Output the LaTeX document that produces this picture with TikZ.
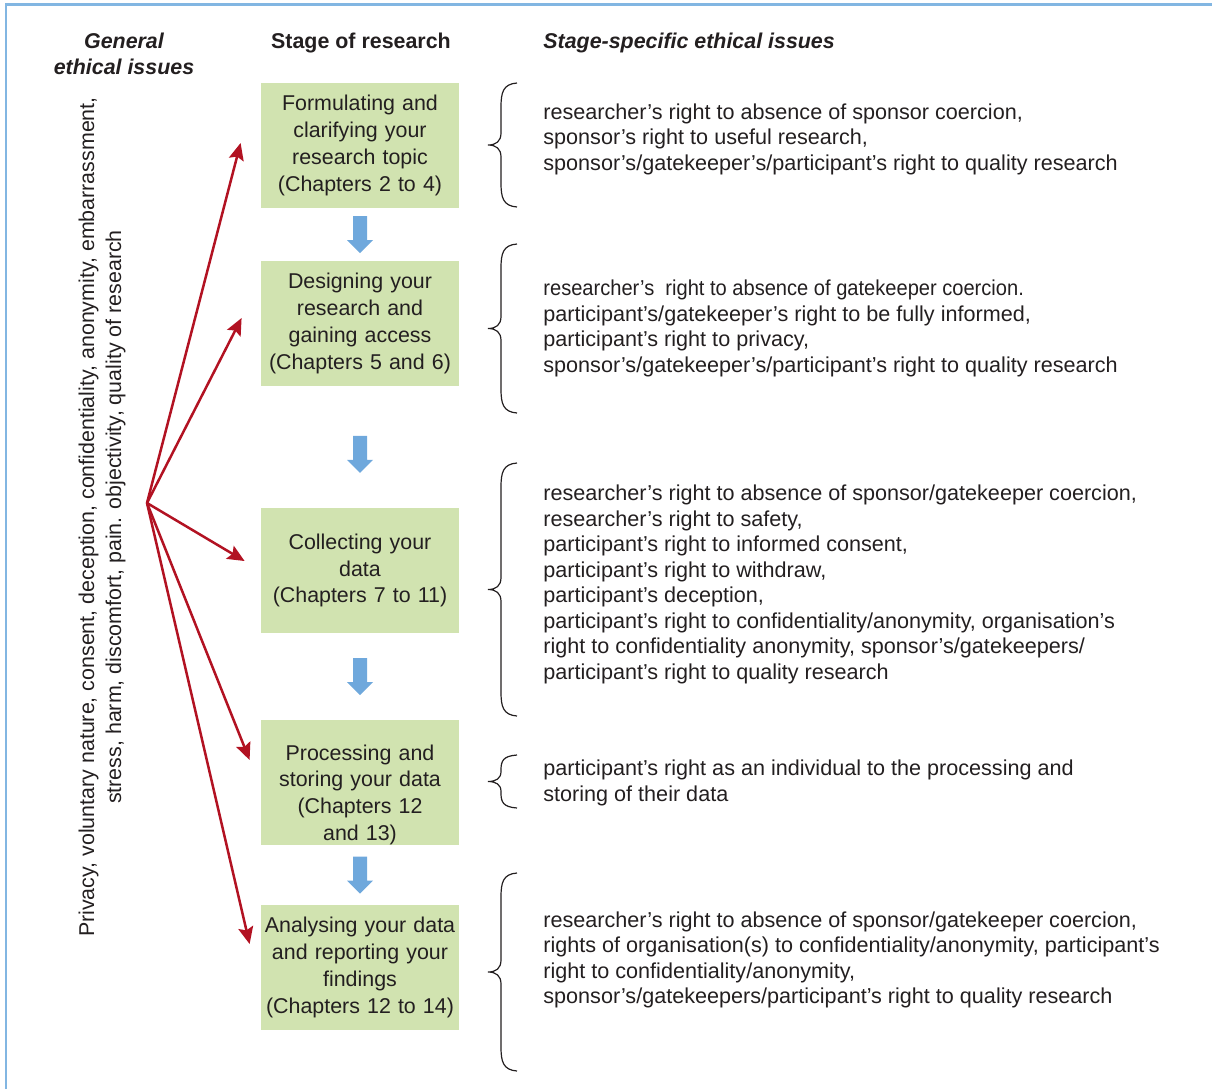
\documentclass[tikz,border=0pt]{standalone}
\usepackage{fontspec}
\setmainfont{Liberation Sans}
\usetikzlibrary{arrows.meta,calc}

\definecolor{stagegreen}{RGB}{209,227,176}
\definecolor{flowblue}{RGB}{111,168,220}
\definecolor{issuered}{RGB}{178,18,34}
\definecolor{frameblue}{RGB}{130,182,226}
\definecolor{inkgray}{RGB}{35,31,32}

\tikzset{
  stage/.style={fill=stagegreen, text=inkgray, text width=99pt, minimum height=62.5pt,
    inner xsep=0pt, align=center, font=\fontsize{10.7}{13.35}\selectfont},
  issues/.style={anchor=west, text=inkgray, align=left, inner sep=0pt,
    font=\fontsize{10.8}{12.75}\selectfont},
  head/.style={text=inkgray, align=center, inner sep=0pt, font=\fontsize{10.7}{13}\selectfont\bfseries},
  reach/.style={draw=issuered, line width=1.25pt, -{Stealth[length=8.5pt,width=7.5pt,inset=1.5pt]}},
  curly/.style={draw=inkgray, line width=0.6pt},
  pics/downflow/.style={code={
    \fill[flowblue] (-7,-18.5) -- (7,-18.5) -- (7,5.5) -- (13,5.5) -- (0,18.5)
      -- (-13,5.5) -- (-7,5.5) -- cycle;
  }}
}

\begin{document}
\begin{tikzpicture}[x=0.5pt, y=-0.5pt]
  \useasboundingbox (0,0) rectangle (1212,1089);
  \draw[frameblue, line width=1.25pt] (6,1089) -- (6,4.5) -- (1212,4.5);

  % column heads
  \node[head] (hgen) at (124,54) {\itshape General\\\itshape ethical issues};
  \node[head] (hstage) at (361,43) {Stage of research};
  \node[head, anchor=west] (hspec) at (543,43) {\itshape Stage-specific ethical issues};

  % general issues, turned
  \node[rotate=90, text=inkgray, align=center, inner sep=0pt,
    font=\fontsize{10.7}{13.5}\selectfont] (gen) at (102,517)
    {Privacy, voluntary nature, consent, deception, confidentiality, anonymity, embarrassment,\\
     stress, harm, discomfort, pain. objectivity, quality of research};
  \coordinate (src) at (147,503);

  % stages
  \node[stage] (f1) at (360,145.5) {Formulating and\\clarifying your\\research topic\\(Chapters 2 to 4)};
  \node[stage] (f2) at (360,323.5) {Designing your\\research and\\gaining access\\(Chapters 5 and 6)};
  \node[stage] (f3) at (360,570.5) {Collecting your\\data\\(Chapters 7 to 11)};
  \node[stage, inner ysep=0pt, text height=20pt] (f4) at (360,782.5) {Processing and\\storing your data\\(Chapters 12\\and 13)};
  \node[stage] (f5) at (360,967.5) {Analysing your data\\and reporting your\\findings\\(Chapters 12 to 14)};

  \pic at ($(f1.south)!0.5!(f2.north)$) {downflow};
  \pic at ($(f2.south)!0.56!(f3.north)$) {downflow};
  \pic at ($(f3.south)!0.5!(f4.north)$) {downflow};
  \pic at ($(f4.south)!0.5!(f5.north)$) {downflow};

  \draw[reach] (src) -- ($(f1.west)+(-20,-2.5)$);
  \draw[reach] (src) -- ($(f2.west)+(-19,-5.5)$);
  \draw[reach] (src) -- ($(f3.west)+(-16,-9.5)$);
  \draw[reach] (src) -- ($(f4.west)+(-11,-22.5)$);
  \draw[reach] (src) -- ($(f5.west)+(-11,-23.5)$);

  % braces
  \foreach \t/\b/\c/\d in {83/207/24/12, 244/413/24/12, 463/716/24/12, 755/808/15/10, 873/1071/24/12}{
    \pgfmathsetmacro\m{(\t+\b)/2}
    \draw[curly] (517,\t) .. controls (503,\t+1) and (501,\t+0.4*\c) .. (501,\t+\c)
      -- (501,\m-\d) .. controls (501,\m-0.3*\d) and (496,\m) .. (488,\m)
      .. controls (496,\m) and (501,\m+0.3*\d) .. (501,\m+\d)
      -- (501,\b-\c) .. controls (501,\b-0.4*\c) and (503,\b-1) .. (517,\b);
  }

  % stage-specific issues
  \node[issues] (s1) at (543,139) {researcher’s right to absence of sponsor coercion,\\
    sponsor’s right to useful research,\\
    sponsor’s/gatekeeper’s/participant’s right to quality research};
  \node[issues] (s2) at (543,328.5) {\scalebox{0.93}[1]{researcher’s\ \ right to absence of gatekeeper coercion.}\\
    participant’s/gatekeeper’s right to be fully informed,\\
    participant’s right to privacy,\\
    sponsor’s/gatekeeper’s/participant’s right to quality research};
  \node[issues] (s3) at (543,584.5) {researcher’s right to absence of sponsor/gatekeeper coercion,\\
    researcher’s right to safety,\\
    participant’s right to informed consent,\\
    participant’s right to withdraw,\\
    participant’s deception,\\
    participant’s right to confidentiality/anonymity, organisation’s\\
    right to confidentiality anonymity, sponsor’s/gatekeepers/\\
    participant’s right to quality research};
  \node[issues] (s4) at (543,783) {participant’s right as an individual to the processing and\\
    storing of their data};
  \node[issues] (s5) at (543,960) {researcher’s right to absence of sponsor/gatekeeper coercion,\\
    rights of organisation(s) to confidentiality/anonymity, participant’s\\
    right to confidentiality/anonymity,\\
    sponsor’s/gatekeepers/participant’s right to quality research};
\end{tikzpicture}
\end{document}
